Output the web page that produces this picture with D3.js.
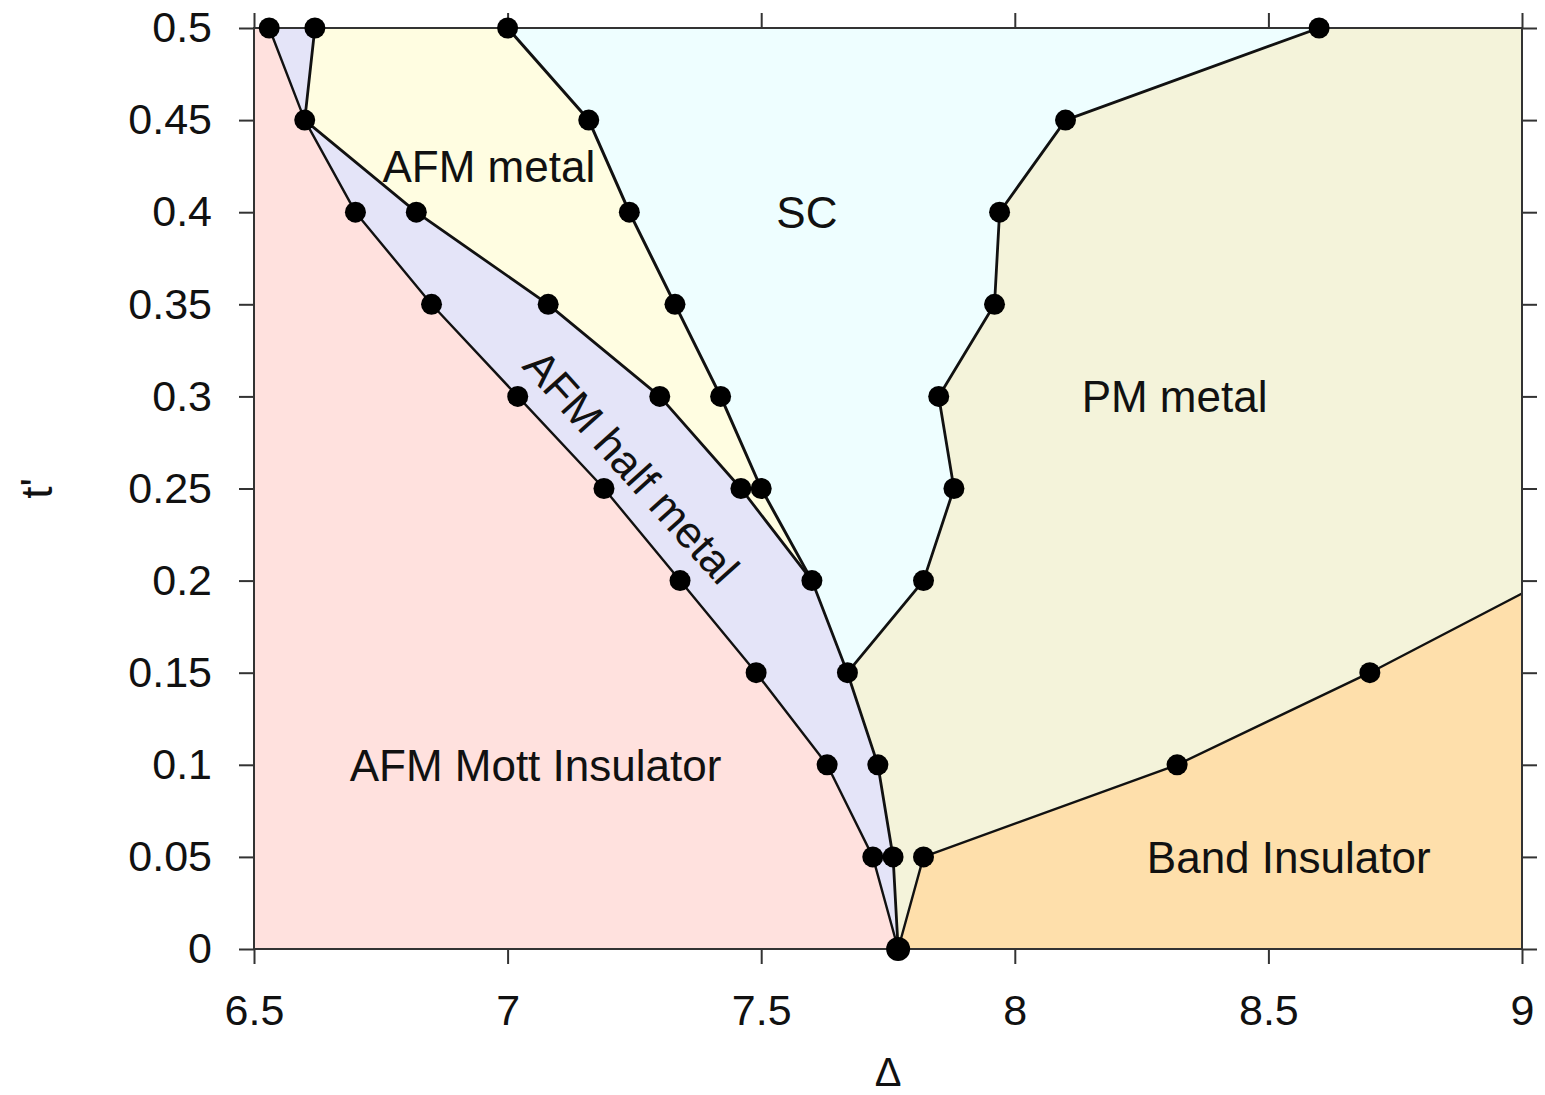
<!DOCTYPE html>
<html>
<head>
<meta charset="utf-8">
<script src="https://cdn.jsdelivr.net/npm/d3@7"></script>
<style>
  html, body { margin: 0; padding: 0; background: #fff; }
  svg { display: block; font-family: "Liberation Sans", Arial, Helvetica, sans-serif; }
</style>
</head>
<body>
<svg id="chart" width="1545" height="1095"></svg>
<script>
// Phase diagram in the (Δ, t') plane.

// Axis ticks
const xTicks = [6.5, 7, 7.5, 8, 8.5, 9];
const yTicks = [0, 0.05, 0.1, 0.15, 0.2, 0.25, 0.3, 0.35, 0.4, 0.45, 0.5];
const yTickLabels = ["0", "0.05", "0.1", "0.15", "0.2", "0.25", "0.3", "0.35", "0.4", "0.45", "0.5"];

// Boundary: AFM Mott insulator | AFM half metal (top to bottom)
const mottBoundary = [
  [6.53, 0.5], [6.60, 0.45], [6.70, 0.4], [6.85, 0.35], [7.02, 0.3],
  [7.19, 0.25], [7.34, 0.2], [7.49, 0.15], [7.63, 0.1], [7.72, 0.05], [7.77, 0]
];
// Boundary: AFM half metal | AFM metal / SC / PM metal (top to bottom)
const halfMetalBoundary = [
  [6.62, 0.5], [6.60, 0.45], [6.82, 0.4], [7.08, 0.35], [7.30, 0.3],
  [7.46, 0.25], [7.60, 0.2], [7.67, 0.15], [7.73, 0.1], [7.76, 0.05], [7.77, 0]
];
// Boundary: AFM metal | SC (top to bottom, ends where it meets the half metal)
const scLeftBoundary = [
  [7.00, 0.5], [7.16, 0.45], [7.24, 0.4], [7.33, 0.35], [7.42, 0.3], [7.50, 0.25], [7.60, 0.2]
];
// Boundary: SC | PM metal (bottom to top)
const scRightBoundary = [
  [7.67, 0.15], [7.82, 0.2], [7.88, 0.25], [7.85, 0.3], [7.96, 0.35],
  [7.97, 0.4], [8.10, 0.45], [8.60, 0.5]
];
// Boundary: PM metal | Band insulator (left to right)
const bandBoundary = [
  [7.77, 0], [7.82, 0.05], [8.32, 0.1], [8.70, 0.15]
];
// Unmarked continuation of the band-insulator boundary to the frame edge
const bandBoundaryEdge = [9.0, 0.193];

// Region labels
const regionNames = ["AFM metal", "SC", "PM metal", "AFM Mott Insulator", "Band Insulator", "AFM half metal"];
const regionColors = {
  mott: "#ffe1de",
  half: "#e4e4f8",
  afm: "#fffde1",
  sc: "#eefeff",
  pm: "#f4f3da",
  band: "#fedfab"
};

const svg = d3.select("#chart");
const margin = { left: 254, top: 28, right: 23, bottom: 146 };
const W = 1545 - margin.left - margin.right;
const H = 1095 - margin.top - margin.bottom;

const x = d3.scaleLinear().domain([6.5, 9]).range([0, W]);
const y = d3.scaleLinear().domain([0, 0.5]).range([H, 0]);

const g = svg.append("g").attr("transform", `translate(${margin.left},${margin.top})`);

const line = d3.line().x(d => x(d[0])).y(d => y(d[1]));
const rev = a => a.slice().reverse();

// Region polygons
const mottPoly = [[6.5, 0], [6.5, 0.5], ...mottBoundary];
const halfPoly = [...mottBoundary, ...rev(halfMetalBoundary)];
const afmPoly = [...halfMetalBoundary.slice(0, 7), ...rev(scLeftBoundary)];
const scPoly = [...scLeftBoundary, ...scRightBoundary];
// PM metal: from top-right corner, down the band boundary, up the half-metal edge, then the SC edge
const pmPoly = [
  [8.60, 0.5], [9, 0.5], bandBoundaryEdge, ...rev(bandBoundary),
  ...rev(halfMetalBoundary.slice(7, 10)), ...scRightBoundary
];
const bandPoly = [...bandBoundary, bandBoundaryEdge, [9, 0]];

const regions = [
  [mottPoly, regionColors.mott],
  [halfPoly, regionColors.half],
  [afmPoly, regionColors.afm],
  [scPoly, regionColors.sc],
  [pmPoly, regionColors.pm],
  [bandPoly, regionColors.band]
];
g.selectAll("path.region").data(regions).enter().append("path")
  .attr("class", "region")
  .attr("d", d => line(d[0]) + "Z")
  .attr("fill", d => d[1])
  .attr("stroke", d => d[1])
  .attr("stroke-width", 0.8);

// Boundary lines
const boundaryLines = [
  [mottBoundary, 2.4],
  [halfMetalBoundary, 2.8],
  [scLeftBoundary, 3],
  [scRightBoundary, 2.8],
  [[...bandBoundary, bandBoundaryEdge], 2.4]
];
g.selectAll("path.boundary").data(boundaryLines).enter().append("path")
  .attr("class", "boundary")
  .attr("d", d => line(d[0]))
  .attr("fill", "none")
  .attr("stroke", "#111")
  .attr("stroke-width", d => d[1])
  .attr("stroke-linejoin", "round");

// Frame
g.append("rect").attr("x", 0).attr("y", 0).attr("width", W).attr("height", H)
  .attr("fill", "none").attr("stroke", "#333").attr("stroke-width", 2);

// Axes (ticks outward on all four sides)
const tickLen = 15;
const fontSize = 43;
const axB = g.append("g").attr("transform", `translate(0,${H})`)
  .call(d3.axisBottom(x).tickValues(xTicks).tickSize(tickLen).tickSizeOuter(0).tickPadding(30)
    .tickFormat(d3.format("")));
const axT = g.append("g")
  .call(d3.axisTop(x).tickValues(xTicks).tickSize(tickLen).tickSizeOuter(0).tickFormat(""));
const axL = g.append("g")
  .call(d3.axisLeft(y).tickValues(yTicks).tickSize(tickLen).tickSizeOuter(0).tickPadding(27)
    .tickFormat((d, i) => yTickLabels[i]));
const axR = g.append("g").attr("transform", `translate(${W},0)`)
  .call(d3.axisRight(y).tickValues(yTicks).tickSize(tickLen).tickSizeOuter(0).tickFormat(""));

[axB, axT, axL, axR].forEach(a => {
  a.select(".domain").remove();
  a.selectAll(".tick line").attr("stroke", "#333").attr("stroke-width", 2);
  a.selectAll(".tick text").attr("font-size", fontSize).attr("fill", "#111")
    .attr("font-family", "Liberation Sans, Arial, sans-serif");
});

// Data points
const allPoints = [
  ...mottBoundary,
  ...halfMetalBoundary.filter(d => !(d[1] === 0.45 || d[1] === 0)),
  ...scLeftBoundary.slice(0, 6),
  ...scRightBoundary.slice(1),
  ...bandBoundary.slice(1)
];
g.selectAll("circle.pt").data(allPoints).enter().append("circle")
  .attr("class", "pt")
  .attr("cx", d => x(d[0])).attr("cy", d => y(d[1]))
  .attr("r", d => (d[1] === 0 ? 12 : 10.5)).attr("fill", "#000");

// Region labels
const labelPos = [
  [6.963, 0.425], [7.59, 0.4], [8.315, 0.3], [7.055, 0.1], [8.54, 0.05]
];
g.selectAll("text.region-label").data(labelPos).enter().append("text")
  .attr("class", "region-label")
  .attr("x", d => x(d[0])).attr("y", d => y(d[1]))
  .attr("dy", "0.36em")
  .attr("text-anchor", "middle")
  .attr("font-size", 44)
  .attr("fill", "#111")
  .text((d, i) => regionNames[i]);

// Rotated label inside the half-metal band
g.append("text")
  .attr("transform", `translate(${x(7.245)},${y(0.262)}) rotate(48)`)
  .attr("text-anchor", "middle")
  .attr("dy", "0.36em")
  .attr("font-size", 44)
  .attr("fill", "#111")
  .text(regionNames[5]);

// Axis titles
svg.append("text")
  .attr("x", margin.left + x(7.75)).attr("y", 1086)
  .attr("text-anchor", "middle").attr("font-size", 40).attr("fill", "#111")
  .text("Δ");
svg.append("text")
  .attr("transform", `translate(52,${margin.top + y(0.25)}) rotate(-90)`)
  .attr("text-anchor", "middle").attr("font-size", 44).attr("fill", "#111")
  .text("t'");
</script>
</body>
</html>
